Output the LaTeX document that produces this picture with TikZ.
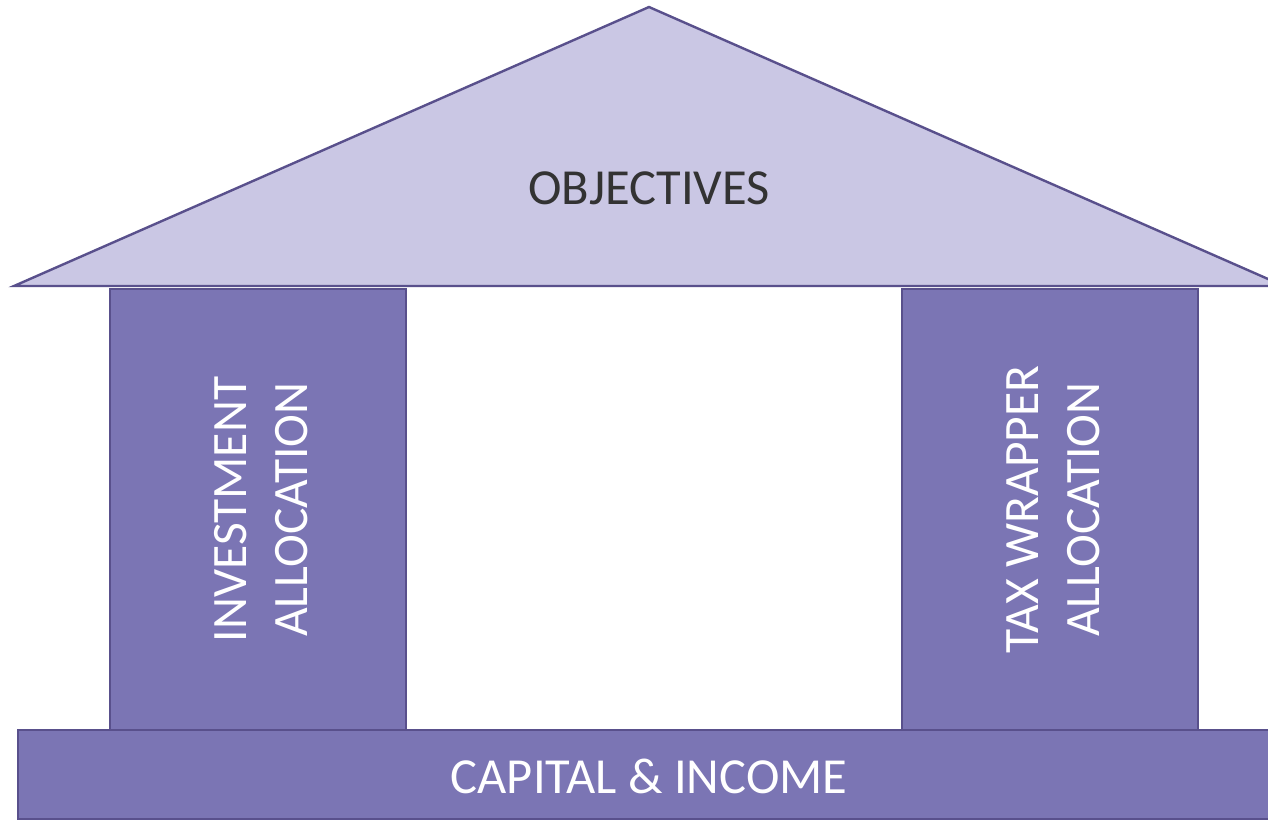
\documentclass[tikz,border=0pt]{standalone}
\usepackage{fontspec}
\setmainfont{Carlito}
\usepackage{tikz}
\usetikzlibrary{positioning}
\definecolor{roofpurple}{RGB}{202,199,228}
\definecolor{pillarpurple}{RGB}{123,117,180}
\definecolor{edgepurple}{RGB}{89,80,140}
\definecolor{darktext}{RGB}{51,51,51}

\begin{document}
\begin{tikzpicture}[x=1pt, y=-1pt,
          pillar/.style={draw=edgepurple, fill=pillarpurple, line width=2.4pt,
                         minimum width=296pt, minimum height=441pt, inner sep=0pt},
          pillartext/.style={rotate=90, align=center, text=white, inner sep=0pt,
                             font=\fontsize{49.5}{61}\selectfont},
          bigtext/.style={font=\fontsize{50.5}{58}\selectfont}]
          \clip (0,0) rectangle (1268,820);
          \fill[white] (0,0) rectangle (1268,820);
          % roof
          \draw[edgepurple, fill=roofpurple, line width=2.4pt, line join=miter]
            (14,286) -- (649,7) -- (1284,286) -- cycle;
          \node[bigtext, text=darktext] (obj) at (649,188) {OBJECTIVES};
          % pillars
          \node[pillar] (inv) at (258,509.5) {};
          \node[pillar] (tax) at (1050,509.5) {};
          \node[pillartext] (invtext) at ([xshift=3.5pt]inv.center) {INVESTMENT\\ALLOCATION};
          \node[pillartext] (taxtext) at ([xshift=3pt]tax.center) {TAX WRAPPER\\ALLOCATION};
          % base
          \node[draw=edgepurple, fill=pillarpurple, line width=2.4pt,
                minimum width=1262pt, minimum height=89pt, inner sep=0pt]
                (base) at (649,774.5) {};
          \node[bigtext, text=white] (basetext) at ([yshift=-2pt]base.center) {CAPITAL \& INCOME};
\end{tikzpicture}
\end{document}
